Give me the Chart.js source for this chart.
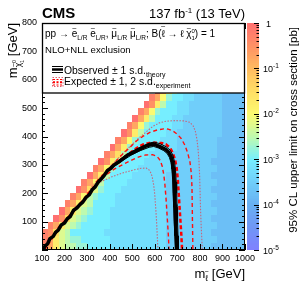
<!DOCTYPE html>
<html><head><meta charset="utf-8">
<script src="https://cdn.jsdelivr.net/npm/chart.js@4/dist/chart.umd.min.js"></script>
<style>html,body{margin:0;padding:0;background:#fff;overflow:hidden}</style>
</head><body>
<canvas id="c" width="303" height="291"></canvas>
<script>
const FONT = '"Liberation Sans", Arial, Helvetica, sans-serif';

// ---- axis ticks ----
const xTicks = [100,200,300,400,500,600,700,800,900,1000];
const yTicks = [100,200,300,400,500,600,700,800];
const cbTicks = [1,1e-1,1e-2,1e-3,1e-4,1e-5];
const cbTickLabels = [['1',''],['10','-1'],['10','-2'],['10','-3'],['10','-4'],['10','-5']];

// ---- heat map: 95% CL upper limit (log10 pb), 25 GeV cells ----
// column i: m_slepton from 100+25i ; row j: m_chi from 25j
const cellMslLeft = [100,125,150,175,200,225,250,275,300,325,350,375,400,425,450,475,500,525,550,575,600,625,650,675,700,725,750,775,800,825,850,875,900,925,950,975];
const cellMchiBottom = [0,25,50,75,100,125,150,175,200,225,250,275,300,325,350,375,400,425,450,475,500,525,550];
const levelLog10 = {a:0,b:-0.25,c:-0.5,d:-0.75,e:-1,f:-1.25,g:-1.5,h:-1.75,i:-2,j:-2.25,k:-2.5,l:-2.75,m:-3,n:-3.25,o:-3.5,p:-3.75,q:-4};
const heatRows = [
 "bdhjkkllmmmm"+"nnnnnnnnnn"+"oooooooo"+"pppppp",
 "bdhjkllmmmmm"+"nnnnnnnnnn"+"oooooooo"+"oppppp",
 "bcgjkmmmmmmn"+"nnnnnnnnnn"+"oooooooo"+"pppppp",
 ".bdhjklmmmmm"+"nnnnnnnnnn"+"oooooooo"+"oppppp",
 "..acgjklmmmm"+"nnnnnnnnnn"+"oooooooo"+"pppppp",
 "...adhjklmmm"+"nnnnnnnnnn"+"oooooooo"+"oppppp",
 "....bdhjkmmm"+"mnnnnnnnnn"+"oooooooo"+"pppppp",
 ".....bdiklmm"+"mnnnnnnnnn"+"oooooooo"+"oppppp",
 "......acgjlm"+"mmnnnnnnnn"+"oooooooo"+"pppppp",
 ".......bdikm"+"mmmnnnnnnn"+"oooooooo"+"oppppp",
 "........adhk"+"mmmmnnnnnn"+"oooooooo"+"pppppp",
 ".........bdi"+"lmmmmnnnnn"+"nooooooo"+"oppppp",
 "..........ac"+"hkmmmmnnnn"+"nooooooo"+"pppppp",
 "...........b"+"dgkmmmmnnn"+"nooooooo"+"oppppp",
 "............"+"adhlmmmmnn"+"nnoooooo"+"oppppp",
 "............"+".bdilmmmmn"+"nnoooooo"+"oppppp",
 "............"+"..achkmmmm"+"nnoooooo"+"oopppp",
 "............"+"...bdilmmm"+"mnnooooo"+"oopppp",
 "............"+"....adhkmm"+"mnnooooo"+"oopppp",
 "............"+".....bdilm"+"mmnnoooo"+"oopppp",
 "............"+"......achk"+"mmnnoooo"+"oopppp",
 "............"+".......bdi"+"lmmnnooo"+"oopppp",
 "............"+"........ad"+"hkmmnooo"+"oopppp"
];

// ---- exclusion contours (m_slepton, m_chi) ----
const observed = [[105,0],[112,12],[125,22],[135,40],[150,48],[160,62],[172,70],[185,88],[200,95],[212,110],[225,118],[240,140],[255,148],[268,160],[280,168],[295,185],[310,195],[322,212],[335,222],[350,240],[362,250],[375,262],[390,280],[405,288],[420,300],[440,310],[460,322],[480,335],[500,342],[520,350],[540,358],[560,366],[580,371],[595,373],[610,369],[630,362],[648,354],[662,344],[672,330],[678,312],[682,290],[685,260],[687,230],[688,200],[690,160],[692,120],[694,80],[696,40],[698,0]];
const obsTheoryUp = [[110,0],[120,18],[140,40],[165,65],[190,92],[215,115],[245,148],[270,165],[300,192],[330,222],[360,250],[390,283],[420,304],[460,328],[500,348],[540,364],[580,378],[600,380],[625,374],[650,364],[668,352],[680,335],[688,310],[692,280],[695,240],[697,200],[699,150],[701,100],[703,50],[705,0]];
const obsTheoryDown = [[100,5],[115,18],[135,34],[160,56],[185,82],[210,103],[240,133],[265,153],[295,180],[325,210],[355,240],[385,272],[415,292],[455,314],[495,334],[535,350],[575,362],[595,365],[615,360],[640,350],[655,340],[665,326],[672,308],[676,285],[679,250],[681,200],[684,150],[686,100],[689,50],[691,0]];
const expected = [[108,0],[125,20],[150,50],[175,78],[200,100],[230,128],[260,155],[290,182],[320,210],[350,240],[380,268],[410,292],[440,312],[470,330],[500,348],[525,362],[548,372],[575,377],[605,378],[630,377],[650,372],[668,360],[680,342],[690,318],[697,290],[702,250],[706,200],[710,150],[714,100],[718,50],[721,0]];
const expPlus1 = [[340,240],[370,265],[400,290],[430,315],[460,340],[490,362],[520,385],[550,402],[580,415],[610,423],[640,427],[660,426],[680,420],[700,408],[718,392],[733,370],[746,342],[756,310],[762,270],[765,220],[766,160],[767,100],[768,50],[769,0]];
const expMinus1 = [[300,198],[340,232],[380,262],[420,285],[460,302],[500,318],[530,328],[560,335],[590,336],[610,330],[624,316],[633,295],[640,265],[645,230],[650,180],[654,130],[658,80],[661,40],[663,0]];
const expPlus2 = [[320,222],[350,250],[380,275],[410,300],[440,325],[470,350],[500,372],[530,395],[560,415],[590,435],[620,448],[650,454],[690,456],[730,455],[755,450],[770,438],[780,418],[787,390],[792,355],[796,310],[799,260],[801,200],[803,140],[806,80],[809,30],[811,0]];
const expMinus2 = [[315,215],[360,240],[410,258],[460,272],[510,283],[540,288],[562,289],[578,280],[588,260],[595,230],[600,195],[604,150],[608,100],[611,50],[614,0]];

// ---- palette ----
const paletteStops = [[0,[255,112,112]],[-0.5,[255,145,100]],[-1,[255,188,96]],[-1.5,[255,222,100]],[-2,[252,250,112]],[-2.5,[190,250,175]],[-3,[118,238,255]],[-3.5,[112,206,250]],[-4,[104,176,242]],[-4.5,[112,150,246]],[-5,[128,128,255]]];
function colorFor(v){
  if (v >= paletteStops[0][0]) return 'rgb('+paletteStops[0][1].join(',')+')';
  for (let k=0;k<paletteStops.length-1;k++){
    const [v0,c0]=paletteStops[k],[v1,c1]=paletteStops[k+1];
    if (v<=v0 && v>=v1){const t=(v0-v)/(v0-v1);return 'rgb('+c0.map((c,i)=>Math.round(c+(c1[i]-c)*t)).join(',')+')';}
  }
  return 'rgb('+paletteStops[paletteStops.length-1][1].join(',')+')';
}

// rich text: segments {t,s,dy,b,adv,tl(tilde offset)}
function rich(ctx,x,y,segs,align){
  let w=0;
  segs.forEach(s=>{ctx.font=(s.b?'bold ':'')+s.s+'px '+FONT; s.w=ctx.measureText(s.t).width; if(s.adv!==false) w+=s.w;});
  let cx = align==='right'? x-w : align==='center'? x-w/2 : x;
  segs.forEach(s=>{
    ctx.font=(s.b?'bold ':'')+s.s+'px '+FONT;
    ctx.fillText(s.t,cx,y+(s.dy||0));
    if (s.tl!==undefined){
      const ts=s.s*0.8;
      ctx.font=ts+'px '+FONT;
      const tw=ctx.measureText('~').width;
      ctx.fillText('~',cx+s.w/2-tw/2+(s.tx||0),y+(s.dy||0)+s.tl);
    }
    if(s.adv!==false) cx+=s.w;
  });
  return w;
}

const pts = a => a.map(([x,y])=>({x,y}));

const heatPlugin = {
  id:'heat',
  beforeDatasetsDraw(chart){
    const {ctx, chartArea:a, scales:{x,y,cb}} = chart;
    ctx.save();
    ctx.beginPath(); ctx.rect(a.left,a.top,a.width,a.height); ctx.clip();
    heatRows.forEach((row,j)=>{
      const yb = Math.round(y.getPixelForValue(cellMchiBottom[j]));
      const yt = Math.round(y.getPixelForValue(cellMchiBottom[j]+25));
      for (let i=0;i<row.length;i++){
        const ch=row[i]; if(ch==='.') continue;
        const xl=Math.round(x.getPixelForValue(cellMslLeft[i]));
        const xr=Math.round(x.getPixelForValue(cellMslLeft[i]+25));
        ctx.fillStyle=colorFor(levelLog10[ch]);
        ctx.fillRect(xl,yt,xr-xl,yb-yt);
      }
    });
    ctx.restore();
    // colour bar
    const bx0=247, bx1=259;
    const N=120;
    for(let k=0;k<N;k++){
      const l0=-5+5*k/N, l1=-5+5*(k+1)/N;
      const p0=cb.getPixelForValue(Math.pow(10,l0)), p1=cb.getPixelForValue(Math.pow(10,l1));
      ctx.fillStyle=colorFor((l0+l1)/2);
      ctx.fillRect(bx0,Math.floor(p1),bx1-bx0,Math.ceil(p0)-Math.floor(p1));
    }
  },
  afterDatasetsDraw(chart){
    const {ctx, chartArea:a, scales:{x,y,cb}} = chart;
    ctx.save();
    ctx.strokeStyle='#000'; ctx.lineWidth=1;
    ctx.beginPath();
    for(let v=100; v<=1000; v+=20){
      const px=Math.round(x.getPixelForValue(v))+0.5;
      const L = (v%100===0)?6:3;
      ctx.moveTo(px,a.bottom); ctx.lineTo(px,a.bottom-L);
      ctx.moveTo(px,a.top); ctx.lineTo(px,a.top+L);
    }
    for(let v=0; v<=800; v+=20){
      const py=Math.round(y.getPixelForValue(v))+0.5;
      const L=(v%100===0)?6:3;
      ctx.moveTo(a.left,py); ctx.lineTo(a.left+L,py);
      ctx.moveTo(a.right,py); ctx.lineTo(a.right-L,py);
    }
    ctx.stroke();
    ctx.strokeRect(a.left+0.5,a.top+0.5,a.width-1,a.height-1);
    ctx.beginPath();
    for(let e=-5;e<=0;e++){
      for(let m=1;m<=9;m++){
        const v=m*Math.pow(10,e); if(v>1) break;
        const py=Math.round(cb.getPixelForValue(v))+0.5;
        const L = m===1?5:2.5;
        ctx.moveTo(259,py); ctx.lineTo(259-L,py);
      }
    }
    ctx.stroke();
    ctx.restore();
  },
  afterDraw(chart){
    const {ctx, chartArea:a, scales:{cb}} = chart;
    ctx.save();
    ctx.fillStyle='#000'; ctx.textBaseline='alphabetic';
    cbTicks.forEach((v,k)=>{
      const py=cb.getPixelForValue(v);
      const [b,s]=cbTickLabels[k];
      if(!s) rich(ctx,266,py+3.5,[{t:b,s:9}]);
      else rich(ctx,263,py+3.5,[{t:b,s:9},{t:s,s:6.5,dy:-4}]);
    });
    // legend box
    ctx.fillStyle='#fff'; ctx.fillRect(a.left,a.top,a.width,70);
    ctx.strokeStyle='#000'; ctx.lineWidth=1.3;
    ctx.strokeRect(a.left+0.5,a.top+0.5,a.width-1,69.5);
    ctx.fillStyle='#000';
    rich(ctx,45,37,[
      {t:'pp \u2192 ',s:10},{t:'e',s:10,tl:-6.5},{t:'L/R',s:6.5,dy:2.5},{t:' ',s:10},{t:'e',s:10,tl:-6.5},{t:'L/R',s:6.5,dy:2.5},
      {t:', ',s:10},{t:'\u03bc',s:10,tl:-6.5},{t:'L/R',s:6.5,dy:2.5},{t:' ',s:10},{t:'\u03bc',s:10,tl:-6.5},{t:'L/R',s:6.5,dy:2.5},
      {t:'; B(',s:10},{t:'\u2113',s:10,tl:-8.5},{t:' \u2192 \u2113 ',s:10},{t:'\u03c7',s:10,tl:-6.5},{t:'0',s:6,dy:-4,adv:false},{t:'1',s:6,dy:2.5},{t:') = 1',s:10}
    ]);
    rich(ctx,45,53,[{t:'NLO+NLL exclusion',s:9.6}]);
    rich(ctx,64,74,[{t:'Observed \u00b1 1 s.d.',s:10.4},{t:'theory',s:7,dy:3}]);
    rich(ctx,64,85,[{t:'Expected \u00b1 1, 2 s.d.',s:10.4},{t:'experiment',s:7,dy:3}]);
    // legend symbols
    ctx.strokeStyle='#000';
    ctx.lineWidth=1; ctx.beginPath(); ctx.moveTo(52,66.5); ctx.lineTo(63,66.5); ctx.moveTo(52,72.5); ctx.lineTo(63,72.5); ctx.stroke();
    ctx.lineWidth=2.5; ctx.beginPath(); ctx.moveTo(52,69.5); ctx.lineTo(63,69.5); ctx.stroke();
    ctx.strokeStyle='rgba(220,80,100,0.9)'; ctx.lineWidth=1; ctx.setLineDash([1.5,1.5]);
    ctx.strokeRect(52.5,77.5,10.5,9);
    ctx.strokeStyle='#f00'; ctx.setLineDash([2,1.5]);
    ctx.lineWidth=1; ctx.beginPath(); ctx.moveTo(53,79.5); ctx.lineTo(63,79.5); ctx.moveTo(53,85); ctx.lineTo(63,85); ctx.stroke();
    ctx.lineWidth=2; ctx.beginPath(); ctx.moveTo(53,82.2); ctx.lineTo(63,82.2); ctx.stroke();
    ctx.setLineDash([]);
    // titles
    ctx.fillStyle='#000';
    rich(ctx,42,18,[{t:'CMS',s:15,b:true}]);
    rich(ctx,245,18,[{t:'137 fb',s:13},{t:'-1',s:8,dy:-5},{t:' (13 TeV)',s:13}],'right');
    rich(ctx,245,278,[{t:'m',s:13},{t:'\u2113',s:8.5,dy:3,tl:-7},{t:' [GeV]',s:13}],'right');
    ctx.save(); ctx.translate(17,23); ctx.rotate(-Math.PI/2);
    rich(ctx,0,0,[{t:'m',s:13},{t:'\u03c7',s:8.5,dy:4,tl:-5.5},{t:'0',s:5.5,dy:-1,adv:false},{t:'1',s:5.5,dy:7},{t:' [GeV]',s:13}],'right');
    ctx.restore();
    ctx.save(); ctx.translate(297,27); ctx.rotate(-Math.PI/2);
    rich(ctx,0,0,[{t:'95% CL upper limit on cross section [pb]',s:11.5}],'right');
    ctx.restore();
    ctx.restore();
  }
};

const line = (data,color,width,dash)=>({data:pts(data),showLine:true,pointRadius:0,borderColor:color,borderWidth:width,borderDash:dash||[],fill:false,tension:0,borderCapStyle:'butt'});

new Chart(document.getElementById('c'),{
  type:'scatter',
  data:{datasets:[
    line(observed,'#000',3.5),
    line(obsTheoryUp,'#000',1),
    line(obsTheoryDown,'#000',1),
    line(expected,'#ff0000',2.5,[4,2.5]),
    line(expPlus1,'#ff1010',1.4,[4,3]),
    line(expMinus1,'#ff1010',1.4,[4,3]),
    line(expPlus2,'rgba(215,80,100,0.85)',1.1,[1.5,1.5]),
    line(expMinus2,'rgba(215,80,100,0.85)',1.1,[1.5,1.5])
  ]},
  options:{
    responsive:false, animation:false, devicePixelRatio:1,
    layout:{padding:{top:23,left:0,right:0,bottom:0}},
    plugins:{legend:{display:false},tooltip:{enabled:false},title:{display:false}},
    scales:{
      x:{type:'linear',min:100,max:1000,
        afterBuildTicks:s=>{s.ticks=xTicks.map(v=>({value:v}));},
        ticks:{font:{family:FONT,size:9},color:'#000',padding:3,maxRotation:0,autoSkip:false,callback:v=>String(v)},
        grid:{display:false,drawTicks:false},border:{display:false},
        afterFit:s=>{s.height=41;}},
      y:{type:'linear',min:0,max:800,
        afterBuildTicks:s=>{s.ticks=yTicks.map(v=>({value:v}));},
        ticks:{font:{family:FONT,size:9},color:'#000',padding:5,autoSkip:false,callback:v=>String(v)},
        grid:{display:false,drawTicks:false},border:{display:false},
        afterFit:s=>{s.width=42;}},
      cb:{type:'logarithmic',position:'right',min:1e-5,max:1,
        afterBuildTicks:s=>{s.ticks=cbTicks.map(v=>({value:v}));},
        ticks:{display:false},grid:{display:false,drawTicks:false},border:{display:false},
        afterFit:s=>{s.width=58;}}
    }
  },
  plugins:[heatPlugin]
});
</script>
</body></html>
